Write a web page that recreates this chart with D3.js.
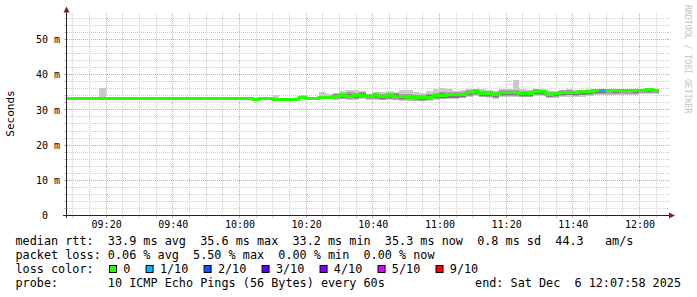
<!DOCTYPE html>
<html>
<head>
<meta charset="utf-8">
<script src="https://cdn.jsdelivr.net/npm/d3@7"></script>
<style>
body { margin: 0; background: #fff; }
svg { display: block; }
text { font-family: "DejaVu Sans Mono", monospace; white-space: pre; }
</style>
</head>
<body>
<div id="chart"></div>
<script>
// smokeping style graph, 10 pings per step, values in ms, 2 minute steps from 09:08
var graphStart = new Date(2025, 11, 6, 9, 7, 58);
var graphEnd = new Date(2025, 11, 6, 12, 7, 58);
var binStart = new Date(2025, 11, 6, 9, 8, 0);
var binMinutes = 2;

var median = [
  33.3,33.3,33.3,33.3,33.3,33.3,33.3,33.3,33.3,33.3,
  33.3,33.3,33.3,33.3,33.3,33.3,33.3,33.3,33.3,33.3,
  33.3,33.3,33.3,33.3,33.3,33.3,33.3,33.3,33.0,33.3,
  33.3,33.0,33.0,33.0,33.0,33.4,33.3,33.1,33.5,33.4,
  33.8,34.0,33.8,34.0,34.2,33.8,34.0,33.7,34.0,33.8,
  33.7,33.5,33.5,33.4,33.6,34.0,34.2,34.3,34.3,34.5,
  35.0,35.2,34.8,34.7,34.3,35.0,35.0,35.0,34.8,34.8,
  35.2,35.2,34.5,34.6,35.0,35.0,35.0,35.1,35.2,35.5,
  35.4,35.5,35.5,35.5,35.5,35.5,35.6,35.7,35.4];

// outer smoke: fastest and slowest ping
var pingMin = [
  33.3,33.3,33.3,33.3,33.3,33.3,33.3,33.3,33.3,33.3,
  33.3,33.3,33.3,33.3,33.3,33.3,33.3,33.3,33.3,33.3,
  33.3,33.3,33.3,33.3,33.3,33.3,33.3,33.3,33.0,33.3,
  33.3,33.0,33.0,33.0,33.0,33.3,33.3,33.1,33.3,33.2,
  32.9,33.0,32.8,32.9,33.1,32.8,32.9,32.7,32.9,32.7,
  32.6,32.5,32.4,32.4,32.6,32.9,33.0,33.1,33.1,33.3,
  33.8,34.0,33.6,33.5,33.2,33.8,33.8,33.8,33.6,33.6,
  33.9,33.9,33.3,33.4,33.7,33.8,33.7,33.8,33.9,34.3,
  34.2,34.3,34.2,34.3,34.3,34.2,34.4,34.6,34.4];
var pingMax = [
  33.3,33.3,33.3,33.3,33.3,36.2,33.3,33.3,33.3,33.3,
  33.3,33.3,33.3,33.3,33.3,33.3,33.3,33.3,33.3,33.3,
  33.3,33.3,33.3,33.3,33.3,33.3,33.3,33.3,33.0,33.3,
  33.3,34.3,33.0,33.0,33.0,34.1,33.3,33.1,35.2,34.5,
  34.8,35.5,35.7,35.7,35.3,34.6,35.0,35.2,35.3,35.2,
  35.7,35.6,35.0,34.8,35.3,36.0,36.2,35.8,35.5,35.6,
  35.9,36.0,35.8,35.6,35.4,35.9,35.8,38.5,35.8,35.6,
  35.9,35.8,35.5,35.4,35.7,35.8,35.6,35.7,35.8,35.9,
  35.8,35.8,35.7,35.8,35.8,35.8,35.9,36.0,35.7];

// second pair of pings
var ping2 = [
  33.3,33.3,33.3,33.3,33.3,33.3,33.3,33.3,33.3,33.3,
  33.3,33.3,33.3,33.3,33.3,33.3,33.3,33.3,33.3,33.3,
  33.3,33.3,33.3,33.3,33.3,33.3,33.3,33.3,33.0,33.3,
  33.3,33.0,33.0,33.0,33.0,33.4,33.3,33.1,33.5,33.4,
  33.1,33.2,33.0,33.1,33.3,33.0,33.1,32.9,33.1,32.9,
  32.8,32.7,32.6,32.6,32.8,33.1,33.2,33.3,33.3,33.5,
  34.0,34.2,33.8,33.7,33.4,34.0,34.0,34.0,33.8,33.8,
  34.2,34.2,33.6,33.7,34.0,34.1,34.0,34.1,34.2,34.6,
  34.5,34.6,34.5,34.6,34.6,34.5,34.7,34.9,34.7];
var ping9 = [
  33.3,33.3,33.3,33.3,33.3,33.3,33.3,33.3,33.3,33.3,
  33.3,33.3,33.3,33.3,33.3,33.3,33.3,33.3,33.3,33.3,
  33.3,33.3,33.3,33.3,33.3,33.3,33.3,33.3,33.0,33.3,
  33.3,33.0,33.0,33.0,33.0,33.4,33.3,33.1,33.8,33.6,
  34.6,34.9,35.0,34.9,35.0,34.5,34.8,34.6,34.9,34.7,
  34.6,34.4,34.3,34.2,34.5,34.9,35.1,35.1,35.0,35.2,
  35.6,35.8,35.5,35.3,35.0,35.6,35.6,35.7,35.5,35.4,
  35.8,35.7,35.2,35.2,35.6,35.6,35.5,35.6,35.7,35.9,
  35.8,35.8,35.7,35.8,35.8,35.8,35.9,36.0,35.7];

// third pair of pings
var ping3 = [
  33.3,33.3,33.3,33.3,33.3,33.3,33.3,33.3,33.3,33.3,
  33.3,33.3,33.3,33.3,33.3,33.3,33.3,33.3,33.3,33.3,
  33.3,33.3,33.3,33.3,33.3,33.3,33.3,33.3,33.0,33.3,
  33.3,33.0,33.0,33.0,33.0,33.4,33.3,33.1,33.5,33.4,
  33.3,33.5,33.3,33.5,33.7,33.3,33.5,33.2,33.5,33.3,
  33.2,33.0,33.0,32.9,33.1,33.3,33.4,33.5,33.5,33.7,
  34.2,34.4,34.0,33.9,33.6,34.2,34.2,34.2,34.0,34.0,
  34.4,34.4,33.8,33.9,34.2,34.3,34.2,34.3,34.4,34.8,
  34.9,35.0,34.9,35.0,35.0,34.9,35.0,35.2,35.0];
var ping8 = [
  33.3,33.3,33.3,33.3,33.3,33.3,33.3,33.3,33.3,33.3,
  33.3,33.3,33.3,33.3,33.3,33.3,33.3,33.3,33.3,33.3,
  33.3,33.3,33.3,33.3,33.3,33.3,33.3,33.3,33.0,33.3,
  33.3,33.0,33.0,33.0,33.0,33.4,33.3,33.1,33.5,33.4,
  34.4,34.6,34.4,34.6,34.8,34.3,34.6,34.3,34.6,34.4,
  34.2,34.0,33.9,33.8,34.1,34.5,34.7,34.8,34.7,34.9,
  35.4,35.6,35.2,35.1,34.7,35.4,35.4,35.4,35.2,35.2,
  35.6,35.6,34.9,35.0,35.4,35.4,35.4,35.5,35.6,35.8,
  35.7,35.8,35.7,35.7,35.8,35.7,35.8,35.9,35.6];

// lost pings out of 10 per step
var lossCount = [
  0,0,0,0,0,0,0,0,0,0, 0,0,0,0,0,0,0,0,0,0,
  0,0,0,0,0,0,0,0,0,0, 0,0,0,0,0,0,0,0,0,0,
  0,0,0,0,0,0,0,0,0,0, 0,0,0,0,0,0,0,0,0,0,
  0,0,0,0,0,0,0,0,0,0, 0,0,0,0,0,0,0,0,0,0,
  1,0,0,0,0,0,0,0,0];

var lossSteps = [0, 1, 2, 3, 4, 5, 9];
var lossLabels = ["0", "1/10", "2/10", "3/10", "4/10", "5/10", "9/10"];
var lossColors = ["#26ff00", "#00b8ff", "#0059ff", "#5e00ff", "#7e00ff", "#dd00ff", "#ff0000"];
var smokeColors = ["#cacaca", "#a4a4a4", "#7e7e7e"];

var yTicks = [0, 10, 20, 30, 40, 50];
var yTickLabels = ["0  ", "10 m", "20 m", "30 m", "40 m", "50 m"];

var rttLine = "median rtt:  33.9 ms avg  35.6 ms max  33.2 ms min  35.3 ms now  0.8 ms sd  44.3   am/s";
var lossLine = "packet loss: 0.06 % avg  5.50 % max  0.00 % min  0.00 % now";
var probeLine = "probe:       10 ICMP Echo Pings (56 Bytes) every 60s";
var endLine = "end: Sat Dec  6 12:07:58 2025";

var W = 697, H = 297;
var svg = d3.select("#chart").append("svg")
    .attr("width", W)
    .attr("height", H);

svg.append("rect").attr("width", W).attr("height", H).attr("fill", "#fff");

var x = d3.scaleTime().domain([graphStart, graphEnd]).range([66, 666]);
var y = d3.scaleLinear().domain([0, 57.7]).range([215.5, 12.4]);
var x0 = 66.5, yb = 215.5;
var crisp = v => Math.floor(v) + 0.5;

// grid, dashes start on whole pixels so the dots stay sharp
var grid = svg.append("g");
var minorH = d3.range(2, 58, 2).filter(v => v % 10 != 0);
var majorH = d3.range(10, 58, 10);
var minorV = d3.timeMinute.every(5).range(graphStart, graphEnd).filter(t => t.getMinutes() % 20 != 0);
var majorV = d3.timeMinute.every(20).range(graphStart, graphEnd);

function hLines(vals, col) {
    vals.forEach(v => {
        var yy = crisp(y(v));
        grid.append("line").attr("x1", 67).attr("x2", 666).attr("y1", yy).attr("y2", yy)
            .attr("stroke", col).attr("stroke-dasharray", "1,1");
        grid.append("line").attr("x1", 64).attr("x2", 66).attr("y1", yy).attr("y2", yy)
            .attr("stroke", col);
        grid.append("line").attr("x1", 667).attr("x2", 669).attr("y1", yy).attr("y2", yy)
            .attr("stroke", col);
    });
}
function vLines(vals, col) {
    vals.forEach(t => {
        var xx = crisp(x(t));
        grid.append("line").attr("x1", xx).attr("x2", xx).attr("y1", 13).attr("y2", 215)
            .attr("stroke", col).attr("stroke-dasharray", "1,1");
        grid.append("line").attr("x1", xx).attr("x2", xx).attr("y1", 216).attr("y2", 218)
            .attr("stroke", col);
    });
}
hLines(minorH, "#cfcfcf");
vLines(minorV, "#cfcfcf");
hLines(majorH, "#ec9a9a");
vLines(majorV, "#ec9a9a");

// data points, step after
var n = median.length;
var pts = d3.range(n + 1).map(i => {
    var k = Math.min(i, n - 1);
    return {
        t: d3.timeMinute.offset(binStart, i * binMinutes),
        med: median[k], loss: lossCount[k],
        bands: [[pingMin[k], pingMax[k]], [ping2[k], ping9[k]], [ping3[k], ping8[k]]]
    };
});

var plot = svg.append("g");
smokeColors.forEach((c, b) => {
    var area = d3.area()
        .curve(d3.curveStepAfter)
        .x(d => Math.round(x(d.t)))
        .y0(d => Math.round(y(d.bands[b][0])))
        .y1(d => Math.round(y(d.bands[b][1])));
    plot.append("path").datum(pts).attr("d", area).attr("fill", c);
});

// 3px median line snapped to whole pixel rows
var yMed = v => Math.round(y(v) - 0.5) + 0.5;
var medLine = d3.line().curve(d3.curveStepAfter).x(d => Math.round(x(d.t))).y(d => yMed(d.med));
plot.append("path").datum(pts).attr("d", medLine)
    .attr("fill", "none").attr("stroke", lossColors[0]).attr("stroke-width", 3);

function lossColor(l) {
    var idx = 0;
    lossSteps.forEach((s, i) => { if (l >= s) idx = i; });
    return lossColors[idx];
}
pts.slice(0, n).forEach((d, i) => {
    if (d.loss > 0) {
        plot.append("line")
            .attr("x1", Math.round(x(d.t))).attr("x2", Math.round(x(pts[i + 1].t)))
            .attr("y1", yMed(d.med)).attr("y2", yMed(d.med))
            .attr("stroke", lossColor(d.loss)).attr("stroke-width", 3);
    }
});

// axes
var axisCol = "#222";
svg.append("line").attr("x1", 63).attr("x2", 669).attr("y1", yb).attr("y2", yb).attr("stroke", axisCol);
svg.append("line").attr("x1", x0).attr("x2", x0).attr("y1", 12).attr("y2", 218).attr("stroke", axisCol);
svg.append("path").attr("d", "M63.5,12.5 L66.5,6.5 L69.5,12.5 Z").attr("fill", "#802020");
svg.append("path").attr("d", "M669,212.5 L675,215.5 L669,218.5 Z").attr("fill", "#802020");

var xAxis = svg.append("g")
    .attr("transform", "translate(0," + yb + ")")
    .call(d3.axisBottom(x)
        .ticks(d3.timeMinute.every(20))
        .tickFormat(d3.timeFormat("%H:%M"))
        .tickSize(0)
        .tickPadding(5.4));
xAxis.select(".domain").remove();
xAxis.selectAll("text").attr("font-size", "10px").attr("fill", "#000")
    .attr("font-family", "DejaVu Sans Mono");

var yAxis = svg.append("g")
    .attr("transform", "translate(" + x0 + ",0)")
    .call(d3.axisLeft(y)
        .tickValues(yTicks)
        .tickFormat((d, i) => yTickLabels[i])
        .tickSize(0)
        .tickPadding(6.5));
yAxis.select(".domain").remove();
yAxis.selectAll("text").attr("font-size", "10px").attr("fill", "#000")
    .attr("font-family", "DejaVu Sans Mono");

svg.append("text")
    .attr("transform", "translate(14,113.5) rotate(-90)")
    .attr("text-anchor", "middle")
    .attr("font-size", "11px")
    .text("Seconds");

svg.append("text")
    .attr("transform", "translate(685,5) rotate(90)")
    .attr("font-size", "8.2px")
    .attr("fill", "#c4c4c4")
    .text("RRDTOOL / TOBI OETIKER");

// legend
var lx = 15.5, fs = "11.8px";
svg.append("text").attr("x", lx).attr("y", 245).attr("font-size", fs).text(rttLine);
svg.append("text").attr("x", lx).attr("y", 259).attr("font-size", fs).text(lossLine);
svg.append("text").attr("x", lx).attr("y", 273).attr("font-size", fs).text("loss color:");
var bx = 109;
lossLabels.forEach((lab, i) => {
    svg.append("rect").attr("x", bx + 0.5).attr("y", 265.5).attr("width", 7).attr("height", 7)
        .attr("fill", lossColors[i]).attr("stroke", "#000");
    svg.append("text").attr("x", bx + 14.3).attr("y", 273).attr("font-size", fs).text(lab);
    bx += 14.3 + lab.length * 7.12 + 15.2;
});
svg.append("text").attr("x", lx).attr("y", 287).attr("font-size", fs).text(probeLine);
svg.append("text").attr("x", 681).attr("y", 287).attr("font-size", fs)
    .attr("text-anchor", "end").text(endLine);
</script>
</body>
</html>
